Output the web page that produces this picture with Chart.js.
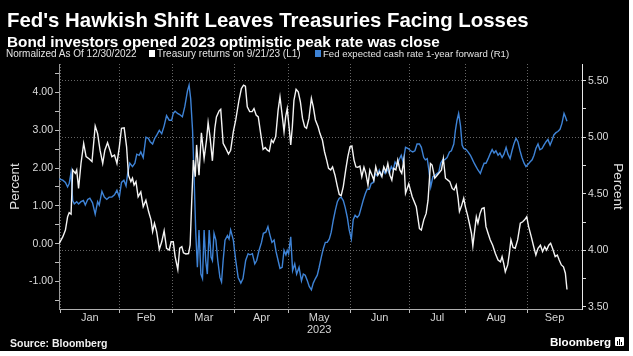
<!DOCTYPE html>
<html>
<head>
<meta charset="utf-8">
<script src="https://cdn.jsdelivr.net/npm/chart.js@4.4.1/dist/chart.umd.min.js"></script>
<style>
  html, body { margin: 0; padding: 0; background: #ffffff; }
  #wrap { position: relative; width: 629px; height: 351px; background: #000000; overflow: hidden; }
  #c { position: absolute; left: 0; top: 0; }
  .t { position: absolute; color: #ffffff; white-space: nowrap; font-family: "Liberation Sans", Arial, sans-serif; }
  #title { left: 7px; top: 10px; font-size: 20.4px; line-height: 20px; font-weight: bold; }
  #subtitle { left: 7px; top: 34px; font-size: 15.3px; line-height: 15.3px; font-weight: bold; }
  .leg { top: 48px; font-size: 10px; line-height: 12px; color: #e2e2e2; }
  .sq { position: absolute; top: 50px; width: 6px; height: 7px; }
  #source { left: 10px; top: 337px; font-size: 10.5px; line-height: 12px; font-weight: bold; color: #f0f0f0; }
  #brand { left: 550px; top: 335px; font-size: 11.6px; line-height: 14px; font-weight: bold; color: #ffffff; }
  #logo { position: absolute; left: 615px; top: 337px; width: 9px; height: 9px; background: #ffffff; border-radius: 1px; }
  #logo i { position: absolute; bottom: 1px; width: 1px; background: #000; }
</style>
</head>
<body>
<div id="wrap">
  <canvas id="c" width="629" height="351"></canvas>
  <div id="title" class="t">Fed's Hawkish Shift Leaves Treasuries Facing Losses</div>
  <div id="subtitle" class="t">Bond investors opened 2023 optimistic peak rate was close</div>
  <div class="t leg" style="left:6px">Normalized As Of 12/30/2022</div>
  <div class="sq" style="left:149px;background:#ffffff"></div>
  <div class="t leg" style="left:157px">Treasury returns on 9/21/23 (L1)</div>
  <div class="sq" style="left:315px;background:#3e83d6"></div>
  <div class="t leg" style="left:323px;font-size:9.6px">Fed expected cash rate 1-year forward (R1)</div>
  <div id="source" class="t">Source: Bloomberg</div>
  <div id="brand" class="t">Bloomberg</div>
  <div id="logo"><i style="left:2px;height:4px"></i><i style="left:4px;height:6px"></i><i style="left:6px;height:3px"></i></div>
</div>
<script>
// ---- Data (x = trading-day count since 12/30/2022) ----
const monthNames = ['Jan','Feb','Mar','Apr','May','Jun','Jul','Aug','Sep'];
const monthStarts = [0.5, 22.5, 42.5, 65.5, 85.5, 108.5, 130.5, 151.5, 174.5];
const yearLabel = '2023';
const yearMonth = 'May';

const treasuryDays = [0.1,1.4,2.4,3.2,3.8,4.5,5.1,6.1,6.6,7.3,8.2,9.2,10.1,11.3,12.3,13.5,14.4,15.3,16.3,17.1,18.1,19.0,19.7,20.7,21.6,22.5,23.3,24.3,25.2,25.9,26.8,27.4,28.0,28.7,29.5,30.5,31.4,32.4,33.4,34.3,34.9,35.6,36.4,37.4,38.3,39.2,40.1,41.1,41.8,42.6,43.3,44.3,45.0,45.8,46.4,47.3,48.3,48.9,49.5,50.1,50.8,51.3,52.2,53.1,54.1,55.0,55.6,56.3,57.2,58.1,58.7,59.7,60.3,61.2,62.2,63.2,
64.0,65.0,65.9,67.1,68.0,68.8,69.5,70.2,71.1,72.0,72.7,73.5,74.3,75.2,76.1,76.9,77.7,78.4,79.2,79.9,80.8,81.7,82.4,83.2,83.9,84.5,85.1,85.9,86.4,87.0,87.6,88.4,89.2,90.0,90.8,91.6,92.3,93.2,94.1,94.8,95.6,96.6,97.3,98.2,99.0,99.8,100.5,101.3,102.0,102.9,103.8,104.5,105.2,106.0,106.9,107.7,108.5,109.2,110.0,110.7,111.4,112.2,112.9,113.7,114.4,115.2,115.9,116.7,117.4,118.1,118.9,119.6,120.4,121.1,121.9,122.6,123.4,124.1,124.8,125.6,126.3,127.1,127.8,128.6,
129.2,130.4,131.7,133.2,134.4,135.1,136.0,136.9,137.6,138.5,139.1,140.1,141.0,141.6,142.6,143.3,144.1,145.0,145.7,146.6,147.3,148.1,148.8,149.3,150.0,150.9,151.5,152.3,153.0,153.8,154.3,155.0,155.6,156.2,157.0,157.7,158.5,159.2,160.0,160.8,161.7,162.7,163.7,164.6,165.2,165.8,166.4,167.3,167.9,168.5,169.3,170.1,171.0,172.0,172.9,173.6,174.4,175.1,176.1,177.0,177.8,178.6,179.5,180.3,181.1,181.8,182.6,183.3,184.0,185.0,185.8,186.5,187.3,188.1,188.8,189.4];
const treasuryPct = [0.01,0.18,0.36,0.71,0.82,0.78,1.95,1.86,1.95,1.46,2.12,2.65,2.30,2.24,2.17,3.11,2.91,2.47,2.12,2.47,2.67,2.47,2.30,2.34,2.12,2.56,3.05,3.06,2.56,1.81,1.64,1.73,1.55,1.64,1.24,1.37,0.98,1.15,0.85,0.63,0.32,0.54,0.32,-0.15,0.05,0.34,-0.12,-0.17,0.05,0.05,-0.34,-0.68,-0.12,-0.08,-0.24,-0.27,-0.26,-0.03,1.15,2.21,1.77,2.61,1.81,2.93,2.25,2.74,3.20,2.83,2.19,3.05,3.35,3.51,3.55,2.65,2.52,2.37,
2.47,2.96,3.27,3.79,4.10,4.19,4.16,3.62,3.49,3.49,3.57,3.40,3.35,2.91,2.49,2.54,2.47,2.44,2.74,2.67,2.83,3.53,3.88,3.40,2.96,3.35,3.57,3.00,2.61,3.09,3.79,4.08,4.01,3.75,3.31,3.09,3.05,3.31,3.84,3.62,3.27,3.09,2.91,2.74,2.43,2.21,1.99,1.95,2.03,1.81,1.51,1.30,1.27,1.51,1.95,2.30,2.56,2.58,2.21,2.03,2.02,2.05,1.77,2.02,1.86,1.55,1.95,1.81,1.68,2.03,1.81,1.90,1.77,2.03,1.90,2.12,1.81,1.68,1.99,1.95,2.21,1.95,1.86,2.21,
1.33,1.58,1.24,0.98,0.40,0.36,0.63,0.80,1.15,2.12,2.08,1.73,1.81,1.86,1.95,2.25,1.73,1.68,1.64,1.46,1.42,1.55,1.20,0.85,0.98,1.20,0.98,0.76,0.54,0.27,-0.06,0.36,0.71,0.54,0.80,0.93,0.95,0.45,0.27,0.10,-0.04,-0.26,-0.43,-0.48,-0.34,-0.52,-0.74,-0.56,-0.26,0.10,-0.10,-0.12,0.10,0.54,0.58,0.63,0.71,0.45,0.18,-0.08,-0.30,-0.12,-0.04,-0.21,-0.08,-0.17,-0.04,0.01,-0.12,-0.34,-0.30,-0.43,-0.56,-0.61,-0.78,-1.21];

const fedDays = [0.1,1.4,2.4,3.2,3.8,4.5,5.1,5.7,6.6,7.3,8.2,9.1,9.8,10.7,11.5,12.5,13.5,14.4,15.0,16.0,16.9,17.8,18.7,19.7,20.7,21.6,22.5,23.3,24.2,25.0,25.6,26.4,27.4,28.3,29.0,29.9,30.5,31.4,32.4,33.3,34.0,34.9,35.7,36.5,37.4,38.3,39.2,40.1,41.1,42.0,42.6,43.3,44.2,45.0,46.0,46.9,47.9,48.5,49.1,49.8,50.4,51.0,51.6,52.2,52.9,53.5,54.1,54.7,55.3,56.0,56.7,57.2,57.8,58.5,59.2,60.0,60.6,61.2,61.9,62.8,63.4,
64.0,65.0,65.9,66.8,67.8,68.6,69.6,70.5,71.2,72.1,73.0,73.7,74.6,75.5,76.2,77.1,77.9,78.7,79.4,80.2,80.9,81.7,82.4,83.2,83.9,84.6,85.1,85.6,86.4,87.1,87.9,88.6,89.5,90.4,91.1,91.8,92.6,93.3,94.1,94.8,95.6,96.3,97.0,97.8,98.5,99.3,100.0,100.8,101.5,102.3,103.0,103.8,104.5,105.2,106.0,106.7,107.5,108.2,109.0,109.7,110.4,111.2,111.9,112.7,113.4,114.2,114.9,115.7,116.4,117.2,117.9,118.6,119.4,120.1,120.9,121.6,122.4,123.1,123.9,124.6,125.3,126.1,126.8,127.6,128.3,
129.2,130.2,131.1,131.9,132.7,133.5,134.4,135.1,136.0,136.6,137.3,137.9,138.6,139.4,140.1,141.0,141.6,142.3,143.1,143.8,144.7,145.6,146.3,147.2,147.8,148.4,149.0,149.7,150.3,150.9,151.8,152.5,153.4,154.0,154.8,155.5,156.2,157.1,157.7,158.5,159.2,160.0,160.7,161.5,162.2,162.9,163.7,164.4,165.2,165.9,166.7,167.4,168.2,168.9,169.6,170.4,171.1,171.9,172.6,173.4,174.1,174.9,175.6,176.4,177.1,177.8,178.6,179.3,180.1,180.8,181.6,182.3,183.1,183.8,184.5,185.3,186.0,186.8,187.5,188.3,188.8,189.4];
const fedRate = [4.63,4.62,4.60,4.56,4.59,4.69,4.44,4.41,4.43,4.41,4.43,4.44,4.40,4.45,4.46,4.42,4.32,4.43,4.40,4.52,4.47,4.45,4.47,4.47,4.49,4.53,4.47,4.60,4.62,4.57,4.68,4.77,4.74,4.77,4.85,4.84,4.87,4.82,5.00,4.99,4.96,4.94,4.99,5.02,5.06,5.03,5.10,5.19,5.15,5.15,5.21,5.23,5.21,5.20,5.18,5.27,5.41,5.46,5.34,5.06,4.62,4.15,3.85,4.18,3.79,3.75,4.18,3.91,3.79,4.18,3.94,3.91,4.15,4.09,3.91,3.76,3.72,3.91,4.09,4.13,4.10,
4.18,4.09,3.91,3.76,3.71,3.75,3.91,3.97,3.96,3.97,3.88,3.91,4.00,4.07,4.15,4.16,4.21,4.13,4.07,4.09,3.99,3.91,3.84,3.85,4.00,3.96,4.00,3.97,4.12,3.82,3.88,3.79,3.85,3.73,3.79,3.78,3.73,3.68,3.65,3.71,3.75,3.78,3.85,3.94,4.01,4.07,4.07,4.10,4.16,4.27,4.35,4.43,4.46,4.47,4.44,4.38,4.29,4.18,4.10,4.27,4.31,4.29,4.31,4.38,4.44,4.50,4.54,4.54,4.59,4.60,4.68,4.66,4.71,4.66,4.71,4.68,4.72,4.68,4.74,4.71,4.78,4.75,4.80,4.84,4.78,
4.91,4.90,4.88,4.87,4.88,4.94,4.94,4.91,4.82,4.80,4.81,4.71,4.56,4.65,4.66,4.68,4.69,4.77,4.80,4.80,4.82,4.87,4.88,4.94,5.06,5.15,5.21,5.10,4.93,4.90,4.89,4.87,4.84,4.81,4.77,4.74,4.71,4.68,4.72,4.77,4.77,4.81,4.85,4.89,4.86,4.88,4.84,4.86,4.82,4.85,4.91,4.85,4.81,4.88,4.94,4.99,4.96,4.88,4.82,4.77,4.74,4.76,4.78,4.80,4.84,4.90,4.94,4.89,4.90,4.93,4.96,4.98,4.93,4.97,5.02,5.04,5.05,5.07,5.12,5.21,5.18,5.14];

const leftTicks = [-1.5,-1,-0.5,0,0.5,1,1.5,2,2.5,3,3.5,4,4.5];
const rightTicks = [3.5,3.75,4,4.25,4.5,4.75,5,5.25,5.5];
const rightGridValues = [4, 5, 5.5];

// ---- Layout helpers ----
const X_MIN = 0, X_MAX = 195;
const monthCenters = monthStarts.map((s, i) => (s + (i + 1 < monthStarts.length ? monthStarts[i + 1] : X_MAX)) / 2);
const isBoundary = v => monthStarts.some(s => Math.abs(s - v) < 1e-6);
const FONT = '"Liberation Sans", Arial, sans-serif';
const GRID = 'rgba(135,135,135,0.75)';
const CLEAR = 'rgba(0,0,0,0)';

const ctx = document.getElementById('c').getContext('2d');
new Chart(ctx, {
  type: 'line',
  data: {
    datasets: [
      {
        label: 'Treasury returns on 9/21/23 (L1)',
        data: treasuryDays.map((d, i) => ({ x: d, y: treasuryPct[i] })),
        yAxisID: 'y', borderColor: '#f4f4f4', borderWidth: 1.4,
        pointRadius: 0, tension: 0, fill: false
      },
      {
        label: 'Fed expected cash rate 1-year forward (R1)',
        data: fedDays.map((d, i) => ({ x: d, y: fedRate[i] })),
        yAxisID: 'y1', borderColor: '#3e83d6', borderWidth: 1.4,
        pointRadius: 0, tension: 0, fill: false
      }
    ]
  },
  options: {
    responsive: false, animation: false, devicePixelRatio: 1,
    layout: { padding: { top: 64, left: 0, right: 0, bottom: 0 } },
    plugins: { legend: { display: false }, tooltip: { enabled: false }, title: { display: false } },
    scales: {
      x: {
        type: 'linear', min: X_MIN, max: X_MAX, position: 'bottom',
        afterBuildTicks: s => {
          s.ticks = monthStarts.concat(monthCenters).sort((a, b) => a - b).map(v => ({ value: v }));
        },
        afterFit: s => { s.height = 42; },
        ticks: {
          autoSkip: false, maxRotation: 0, minRotation: 0, padding: -1, color: '#d4d4d4',
          font: { family: FONT, size: 11, lineHeight: 1.1 },
          callback: v => {
            const i = monthCenters.findIndex(c => Math.abs(c - v) < 1e-6);
            if (i < 0) return '';
            return monthNames[i] === yearMonth ? [monthNames[i], yearLabel] : monthNames[i];
          }
        },
        grid: {
          color: c => (c.tick && isBoundary(c.tick.value)) ? GRID : CLEAR,
          tickColor: c => (c.tick && isBoundary(c.tick.value)) ? '#bdbdbd' : CLEAR,
          tickLength: 4, lineWidth: 1
        },
        border: { color: '#b0b0b0', width: 1, dash: [1, 2] }
      },
      y: {
        type: 'linear', position: 'left', min: -1.725, max: 4.748,
        afterBuildTicks: s => { s.ticks = leftTicks.map(v => ({ value: v })); },
        afterFit: s => { s.width = 59; },
        ticks: {
          padding: 2, color: '#dcdcdc', font: { family: FONT, size: 10.5 },
          callback: v => Number.isInteger(v) ? v.toFixed(2) : ''
        },
        grid: { drawOnChartArea: false, tickLength: 4, tickColor: '#bdbdbd' },
        border: { color: '#9a9a9a', width: 1 },
        title: { display: true, text: 'Percent', color: '#e0e0e0', font: { family: FONT, size: 13.5 }, padding: { top: 7, bottom: 0 } }
      },
      y1: {
        type: 'linear', position: 'right', min: 3.481, max: 5.647,
        afterBuildTicks: s => { s.ticks = rightTicks.map(v => ({ value: v })); },
        afterFit: s => { s.width = 47; },
        ticks: {
          padding: 2, color: '#dcdcdc', font: { family: FONT, size: 10.5 },
          callback: v => Number.isInteger(v * 2) ? v.toFixed(2) : ''
        },
        grid: {
          drawOnChartArea: true, tickLength: 4, tickColor: '#d8d8d8',
          color: c => (c.tick && rightGridValues.includes(c.tick.value)) ? GRID : CLEAR
        },
        border: { color: '#e8e8e8', width: 1, dash: [1, 2] },
        title: { display: true, text: 'Percent', color: '#e0e0e0', font: { family: FONT, size: 13.5 }, padding: { top: 3, bottom: 0 } }
      }
    }
  }
});
</script>
</body>
</html>
